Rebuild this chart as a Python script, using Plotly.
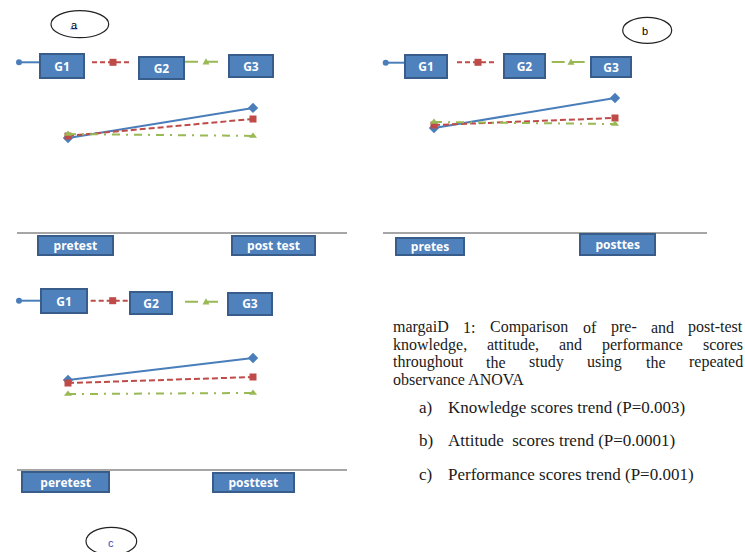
import plotly.graph_objects as go

# ---------------- data ----------------
phases_a = ["pretest", "post test"]
phases_b = ["pretes", "posttes"]
phases_c = ["peretest", "posttest"]
groups = ["G1", "G2", "G3"]

knowledge_g1 = [50.2, 66.3]
knowledge_g2 = [51.3, 60.4]
knowledge_g3 = [52.3, 51.3]

attitude_g1 = [55.7, 71.8]
attitude_g2 = [57.3, 61.1]
attitude_g3 = [58.9, 57.8]

performance_g1 = [47.8, 59.6]
performance_g2 = [46.2, 49.4]
performance_g3 = [40.3, 40.9]

panel_letters = ["a", "b", "c"]

caption_lines = [
    "margaiD 1: Comparison of pre-  and post-test",
    "knowledge, attitude, and performance scores",
    "throughout the study using the repeated",
    "observance ANOVA",
]
caption_items = [
    ("a)", "Knowledge scores trend (P=0.003)"),
    ("b)", "Attitude  scores trend (P=0.0001)"),
    ("c)", "Performance scores trend (P=0.001)"),
]

# ---------------- layout helpers ----------------
W, H = 745, 552
def px(x):
    return x / W
def py(y):
    return 1 - y / H

BLUE = "#4A7EBB"
RED = "#BE4B48"
GREEN = "#98B954"
BOX_FILL = "#4F81BD"
BOX_LINE = "#385D8A"
AXIS_GRAY = "#A6A6A6"

series_style = [
    dict(color=BLUE, dash="solid", symbol="diamond", size=8),
    dict(color=RED, dash="6px,3px", symbol="square", size=7),
    dict(color=GREEN, dash="8px,6px,2px,6px", symbol="triangle-up", size=7),
]

# panel geometry (pixels): x-axis line span, pre/post x pixel, axis line y, top y
panels = [
    dict(phases=phases_a, series=[knowledge_g1, knowledge_g2, knowledge_g3],
         xl=16.7, xr=346.7, xpre=68, xpost=253, ybot=231.7, ytop=45.0),
    dict(phases=phases_b, series=[attitude_g1, attitude_g2, attitude_g3],
         xl=383.3, xr=706.7, xpre=434, xpost=615, ybot=232.0, ytop=45.3),
    dict(phases=phases_c, series=[performance_g1, performance_g2, performance_g3],
         xl=16.7, xr=346.7, xpre=68, xpost=253, ybot=469.3, ytop=282.6),
]

fig = go.Figure()

for i, p in enumerate(panels):
    n = "" if i == 0 else str(i + 1)
    unit = p["xpost"] - p["xpre"]
    xr0 = (p["xl"] - p["xpre"]) / unit
    xr1 = (p["xr"] - p["xpre"]) / unit
    for s, vals in enumerate(p["series"]):
        st = series_style[s]
        fig.add_trace(go.Scatter(
            x=p["phases"], y=vals, mode="lines+markers", name=groups[s],
            xaxis="x" + n, yaxis="y" + n, showlegend=False,
            line=dict(color=st["color"], width=2, dash=st["dash"]),
            marker=dict(color=st["color"], symbol=st["symbol"], size=st["size"]),
            hoverinfo="skip",
        ))
    fig.update_layout(**{
        "xaxis" + n: dict(
            domain=[px(p["xl"]), px(p["xr"])], type="category",
            categoryorder="array", categoryarray=p["phases"],
            range=[xr0, xr1], showline=True, linecolor=AXIS_GRAY, linewidth=1.5,
            showticklabels=False, ticks="", showgrid=False, zeroline=False,
            anchor="y" + n, fixedrange=True,
        ),
        "yaxis" + n: dict(
            domain=[py(p["ybot"]), py(p["ytop"])], range=[0, 100],
            visible=False, anchor="x" + n, fixedrange=True,
        ),
    })

annotations = []
shapes = []

def box(text, x0, x1, y0, y1, size=12):
    annotations.append(dict(
        text="<b>%s</b>" % text, x=px((x0 + x1) / 2), y=py((y0 + y1) / 2),
        xref="paper", yref="paper", xanchor="center", yanchor="middle",
        showarrow=False, bgcolor=BOX_FILL, bordercolor=BOX_LINE, borderwidth=2,
        borderpad=0, width=max(x1 - x0 - 4, 1), height=max(y1 - y0 - 4, 1),
        font=dict(family="Open Sans, Liberation Sans, sans-serif", size=size, color="white"),
        align="center", valign="middle",
    ))

def hline(x0, x1, y, color, dash):
    shapes.append(dict(type="line", xref="paper", yref="paper",
                       x0=px(x0), x1=px(x1), y0=py(y), y1=py(y),
                       line=dict(color=color, width=2, dash=dash)))

def dot(x, y, r, color):
    shapes.append(dict(type="circle", xref="paper", yref="paper",
                       x0=px(x - r), x1=px(x + r), y0=py(y + r), y1=py(y - r),
                       fillcolor=color, line=dict(color=color, width=0)))

def square(x, y, r, color):
    shapes.append(dict(type="rect", xref="paper", yref="paper",
                       x0=px(x - r), x1=px(x + r), y0=py(y + r), y1=py(y - r),
                       fillcolor=color, line=dict(color=color, width=0)))

def triangle(x, y, r, color):
    path = "M %f %f L %f %f L %f %f Z" % (
        px(x - r), py(y + r * 0.8), px(x + r), py(y + r * 0.8), px(x), py(y - r))
    shapes.append(dict(type="path", xref="paper", yref="paper", path=path,
                       fillcolor=color, line=dict(color=color, width=0)))

# legend rows (pixel geometry)
legend_rows = [
    dict(blue=(19, 39, 62.3), red=(92, 131, 62.3, 113), green=(185, 222, 61.7, 206),
         boxes=[(39, 85, 53.3, 79.3), (138, 185, 56, 80), (228, 274, 54.3, 78.3)]),
    dict(blue=(385.7, 404, 62.7), red=(457, 496, 62.3, 478), green=(551.7, 588, 62, 571),
         boxes=[(404, 448.3, 54.3, 79.3), (502.7, 545.7, 53.3, 79.3), (590, 632.3, 55.7, 77.7)]),
    dict(blue=(19, 40, 300.7), red=(90.7, 128.3, 300.7, 112.7), green=(185, 222.7, 301.7, 206),
         boxes=[(40, 88.3, 288.3, 314.3), (128.3, 172.7, 291, 315), (226.7, 272.7, 292.3, 316)]),
]
for row in legend_rows:
    bx0, bx1, by = row["blue"]
    hline(bx0, bx1, by, BLUE, "solid")
    dot(bx0, by, 3, BLUE)
    rx0, rx1, ry, rm = row["red"]
    hline(rx0, rx1, ry, RED, "5px,3px")
    square(rm, ry, 3.5, RED)
    gx0, gx1, gy, gm = row["green"]
    hline(gx0, gx1, gy, GREEN, "13px,7px")
    triangle(gm, gy, 3.5, GREEN)
    for g, (x0, x1, y0, y1) in zip(groups, row["boxes"]):
        box(g, x0, x1, y0, y1, size=12)

# category boxes under axes
cat_boxes = [
    (phases_a, [(37.3, 114, 235, 256), (231, 316, 235, 256)]),
    (phases_b, [(395, 465, 237.3, 256), (578.3, 655.7, 233.3, 256)]),
    (phases_c, [(20.7, 110, 471, 493.3), (211.7, 294.3, 472.3, 493.3)]),
]
for names, geoms in cat_boxes:
    for name, (x0, x1, y0, y1) in zip(names, geoms):
        box(name, x0, x1, y0, y1, size=12)

# panel letter ellipses
ellipses = [
    (51, 108.7, 10.7, 37.7, 74, 24.5, "black"),
    (622.7, 671.7, 17.3, 43.3, 644.5, 31.5, "black"),
    (86, 136.7, 527.3, 555, 110.5, 543, "#2f3fbf"),
]
for letter, (x0, x1, y0, y1, tx, ty, col) in zip(panel_letters, ellipses):
    shapes.append(dict(type="circle", xref="paper", yref="paper",
                       x0=px(x0), x1=px(x1), y0=py(y1), y1=py(y0),
                       line=dict(color="#222222", width=1.2), fillcolor="rgba(0,0,0,0)"))
    annotations.append(dict(text=letter, x=px(tx), y=py(ty), xref="paper", yref="paper",
                            xanchor="center", yanchor="middle", showarrow=False,
                            borderpad=0,
                            font=dict(family="Liberation Sans, Arial, sans-serif", size=11, color=col)))
# little blue underline under "a"
shapes.append(dict(type="line", xref="paper", yref="paper",
                   x0=px(70.5), x1=px(77.5), y0=py(28.8), y1=py(28.8),
                   line=dict(color="#3050d0", width=1)))

# caption text: justified lines laid out word by word using Times metrics
SERIF = "Liberation Serif, Times New Roman, serif"
CAP_SIZE = 16
ITEM_SIZE = 17
CAP_COL = "#1a1a1a"
TIMES = {
    " ": 250, "a": 444, "b": 500, "c": 444, "d": 500, "e": 444, "f": 333, "g": 500,
    "h": 500, "i": 278, "j": 278, "k": 500, "l": 278, "m": 778, "n": 500, "o": 500,
    "p": 500, "q": 500, "r": 333, "s": 389, "t": 278, "u": 500, "v": 500, "w": 722,
    "x": 500, "y": 500, "z": 444, "A": 722, "C": 667, "D": 722, "N": 722, "O": 722,
    "V": 722, "P": 556, "K": 722, ",": 250, ":": 278, "-": 333, ".": 250, "(": 333,
    ")": 333, "=": 564,
}
def text_width(s, size):
    return sum(TIMES.get(ch, 500) for ch in s) * size / 1000.0

LEFT, RIGHT = 391.7, 741.7
line_y = [327, 344.5, 362, 379]
for li, text in enumerate(caption_lines):
    y = py(line_y[li])
    if li < 3:
        words = text.split()
        widths = [text_width(w, CAP_SIZE) for w in words]
        gap = (RIGHT - LEFT - sum(widths)) / (len(words) - 1)
        xcur = LEFT
        for w, wd in zip(words, widths):
            annotations.append(dict(text=w, x=px(xcur), y=y, xref="paper", yref="paper",
                                    xanchor="left", yanchor="middle", showarrow=False,
                                    borderpad=0,
                                    font=dict(family=SERIF, size=CAP_SIZE, color=CAP_COL)))
            xcur += wd + gap
    else:
        annotations.append(dict(text=text, x=px(LEFT), y=y, xref="paper", yref="paper",
                                xanchor="left", yanchor="middle", showarrow=False,
                                borderpad=0,
                                font=dict(family=SERIF, size=CAP_SIZE, color=CAP_COL)))

item_y = [407, 440.5, 474]
for (mark, text), y in zip(caption_items, item_y):
    annotations.append(dict(text=mark, x=px(418), y=py(y), xref="paper", yref="paper",
                            xanchor="left", yanchor="middle", showarrow=False,
                            borderpad=0,
                            font=dict(family=SERIF, size=ITEM_SIZE, color=CAP_COL)))
    annotations.append(dict(text=text.replace("  ", "&nbsp; "), x=px(446.5), y=py(y),
                            xref="paper", yref="paper",
                            xanchor="left", yanchor="middle", showarrow=False,
                            borderpad=0,
                            font=dict(family=SERIF, size=ITEM_SIZE, color=CAP_COL)))

fig.update_layout(
    width=W, height=H, margin=dict(l=0, r=0, t=0, b=0),
    paper_bgcolor="white", plot_bgcolor="white",
    shapes=shapes, annotations=annotations, showlegend=False,
)

fig.write_html("out.html", config={"displayModeBar": False},
               post_script="document.body.style.margin='0px';document.body.style.overflow='hidden';")
